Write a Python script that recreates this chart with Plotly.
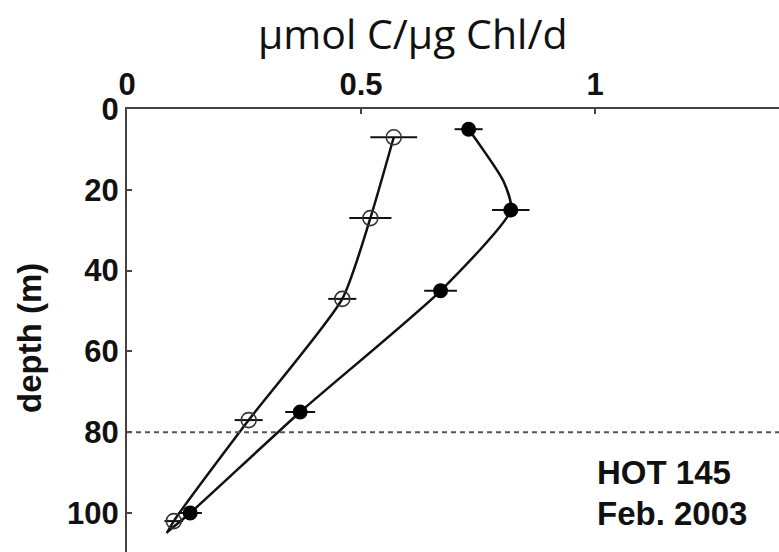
import plotly.graph_objects as go

# Productivity profiles, HOT 145 (Feb. 2003)
depth_open = [7, 27, 47, 77, 102]
rate_open = [0.57, 0.52, 0.46, 0.26, 0.10]
err_open = [0.05, 0.045, 0.03, 0.03, 0.02]

depth_filled = [5, 25, 45, 75, 100]
rate_filled = [0.73, 0.82, 0.67, 0.37, 0.135]
err_filled = [0.03, 0.04, 0.035, 0.032, 0.025]

# profile curves (continue a little past the deepest sample)
line_open_depth = [7, 27, 47, 77, 102, 105]
line_open_rate = [0.57, 0.52, 0.46, 0.26, 0.10, 0.085]
line_filled_depth = [5, 18, 25, 45, 75, 100, 104.5]
line_filled_rate = [0.73, 0.805, 0.82, 0.67, 0.37, 0.135, 0.088]

x_ticks = [0, 0.5, 1]
x_tick_text = ["0", "0.5", "1"]
y_ticks = [0, 20, 40, 60, 80, 100]
ref_depth = 80

W, H = 779, 552
ML, MT = 127, 109
X_RANGE = [0, (W - ML) / 468]
Y_RANGE = [(H - MT) / 4.04, 0]

bold = dict(family="Liberation Sans, Arial", size=31, color="#111", weight="bold")

fig = go.Figure()

fig.add_trace(go.Scatter(x=line_open_rate, y=line_open_depth, mode="lines",
                         line=dict(color="#111", width=2.5, shape="spline", smoothing=0.6),
                         hoverinfo="skip"))
fig.add_trace(go.Scatter(x=line_filled_rate, y=line_filled_depth, mode="lines",
                         line=dict(color="#111", width=2.5, shape="spline", smoothing=0.6),
                         hoverinfo="skip"))

fig.add_trace(go.Scatter(x=rate_open, y=depth_open, mode="markers",
                         marker=dict(symbol="circle-open", size=15, color="#333",
                                     line=dict(width=1.6, color="#333")),
                         error_x=dict(type="data", array=err_open, color="#111",
                                      thickness=2, width=0)))
fig.add_trace(go.Scatter(x=rate_filled, y=depth_filled, mode="markers",
                         marker=dict(symbol="circle", size=15, color="#000"),
                         error_x=dict(type="data", array=err_filled, color="#111",
                                      thickness=2, width=0)))

fig.add_shape(type="line", xref="paper", x0=0, x1=1, yref="y", y0=ref_depth, y1=ref_depth,
              line=dict(color="#555", width=2, dash="5px,4px"))

fig.add_annotation(text="μmol C/μg Chl/d", xref="paper", yref="paper",
                   x=(413 - ML) / (W - ML), y=(H - 33) / (H - MT),
                   xanchor="center", yanchor="middle", showarrow=False,
                   font=dict(family="Open Sans", size=41, color="#111"))
fig.add_annotation(text="<b>depth (m)</b>", xref="paper", yref="paper",
                   x=(29 - ML) / (W - ML), y=(H - 338) / (H - MT), textangle=-90,
                   xanchor="center", yanchor="middle", showarrow=False,
                   font=dict(family="Liberation Sans, Arial", size=33, color="#111"))
fig.add_annotation(text="<b>HOT 145</b>", x=1.0, y=90, xanchor="left", yanchor="middle",
                   showarrow=False, font=dict(family="Liberation Sans, Arial", size=33, color="#111"))
fig.add_annotation(text="<b>Feb. 2003</b>", x=1.0, y=100, xanchor="left", yanchor="middle",
                   showarrow=False, font=dict(family="Liberation Sans, Arial", size=33, color="#111"))

fig.update_layout(
    width=W, height=H,
    margin=dict(l=ML, r=0, t=MT, b=0, pad=0),
    paper_bgcolor="white", plot_bgcolor="white",
    showlegend=False,
    xaxis=dict(side="top", range=X_RANGE, tickvals=x_ticks, ticktext=x_tick_text,
               ticks="inside", ticklen=5, tickwidth=1.5, tickcolor="#444",
               showline=True, linewidth=2, linecolor="#444",
               showgrid=False, zeroline=False, tickfont=bold),
    yaxis=dict(range=Y_RANGE, tickvals=y_ticks,
               ticks="inside", ticklen=5, tickwidth=1.5, tickcolor="#444",
               showline=True, linewidth=2, linecolor="#444",
               showgrid=False, zeroline=False, tickfont=bold),
)

fig.write_html("out.html")
